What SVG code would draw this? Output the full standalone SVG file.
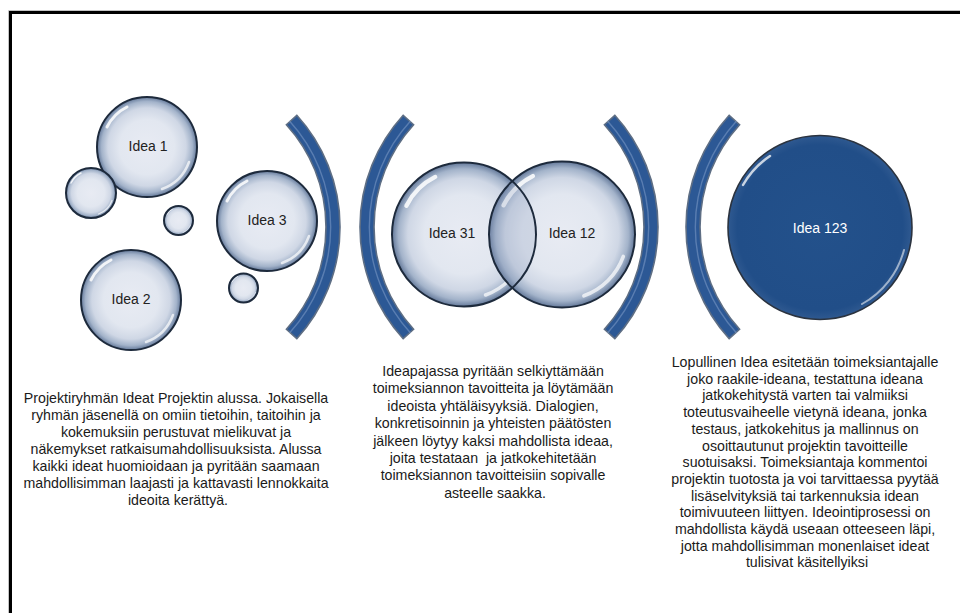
<svg xmlns="http://www.w3.org/2000/svg" xmlns:xlink="http://www.w3.org/1999/xlink" width="960" height="613" viewBox="0 0 960 613">
  <style>
    .label { font-family: "Liberation Sans", Arial, sans-serif; font-size: 14px; fill: #222; text-anchor: middle; dominant-baseline: central; }
    .label-dark { fill: #ffffff; }
    .body { font-family: "Liberation Sans", Arial, sans-serif; font-size: 14.2px; fill: #1a1a1a; text-anchor: middle; }
    .bracket { fill: #2c5895; stroke: #5e6e84; stroke-width: 1.6; stroke-linejoin: miter; }
    .bracket-shine { fill: none; stroke: #7f9cc8; stroke-width: 1.4; opacity: 0.55; }
    .rim { fill: none; stroke: #1d2a3c; stroke-width: 2; }
  </style>
  <defs>
    <radialGradient id="bubbleFill" cx="0.5" cy="0.5" r="0.5">
      <stop offset="0" stop-color="#e8ebf3"/>
      <stop offset="0.55" stop-color="#e2e7f0"/>
      <stop offset="0.78" stop-color="#cfd7e5"/>
      <stop offset="0.91" stop-color="#a3b3ca"/>
      <stop offset="1" stop-color="#64799a"/>
    </radialGradient>
    <radialGradient id="darkFill" cx="0.5" cy="0.5" r="0.5">
      <stop offset="0" stop-color="#23518b"/>
      <stop offset="0.9" stop-color="#214e88"/>
      <stop offset="1" stop-color="#2f5990"/>
    </radialGradient>
    <!-- unit bubble drawn at radius 100, scaled per node -->
    <g id="bubbleBody">
      <circle r="100" fill="url(#bubbleFill)"/>
      <path d="M -80,-40 A 89.4 89.4 0 0 1 -40,-80" fill="none" stroke="#ffffff" stroke-width="6" stroke-linecap="round" opacity="0.85"/>
      <path d="M 84,30 A 89.4 89.4 0 0 1 30,84" fill="none" stroke="#ffffff" stroke-width="5" stroke-linecap="round" opacity="0.7"/>
    </g>
    <circle id="bubbleRim" r="100" class="rim" vector-effect="non-scaling-stroke"/>
    <g id="bubble">
      <use xlink:href="#bubbleBody"/>
      <use xlink:href="#bubbleRim"/>
    </g>
    <clipPath id="clipRight">
      <circle cx="562" cy="234.5" r="73"/>
    </clipPath>
  </defs>

  <rect width="960" height="613" fill="#ffffff"/>

  <!-- page frame -->
  <path d="M 8.5,613 V 10.5 H 960" fill="none" stroke="#c4c4c4" stroke-width="1"/>
  <path d="M 10.5,613 V 12.5 H 960" fill="none" stroke="#000000" stroke-width="3"/>

  <!-- stage 1: scattered ideas -->
  <g id="idea-1">
    <use xlink:href="#bubble" transform="translate(147 147) scale(0.5)"/>
    <text class="label" x="148" y="146">Idea 1</text>
  </g>
  <g id="bubble-small-a">
    <use xlink:href="#bubble" transform="translate(91 193) scale(0.25)"/>
  </g>
  <g id="bubble-tiny-a">
    <use xlink:href="#bubble" transform="translate(178.5 220.5) scale(0.145)"/>
  </g>
  <g id="idea-2">
    <use xlink:href="#bubble" transform="translate(131 300) scale(0.5)"/>
    <text class="label" x="131" y="299">Idea 2</text>
  </g>
  <g id="idea-3">
    <use xlink:href="#bubble" transform="translate(267 221) scale(0.5)"/>
    <text class="label" x="267" y="220">Idea 3</text>
  </g>
  <g id="bubble-tiny-b">
    <use xlink:href="#bubble" transform="translate(243.5 288) scale(0.145)"/>
  </g>

  <!-- curved brackets separating the stages -->
  <g id="brackets">
    <path class="bracket" d="M 296.8,115.3 A 166 166 0 0 1 296.8,338.7 L 286.4,329.3 A 152 152 0 0 0 286.4,124.7 Z"/>
    <path class="bracket-shine" d="M 289.5,121 A 157 157 0 0 1 289.5,333"/>
    <path class="bracket" d="M 403.2,115.3 A 166 166 0 0 0 403.2,338.7 L 413.6,329.3 A 152 152 0 0 1 413.6,124.7 Z"/>
    <path class="bracket-shine" d="M 410.5,121 A 157 157 0 0 0 410.5,333"/>
    <path class="bracket" d="M 614.8,115.3 A 166 166 0 0 1 614.8,338.7 L 604.4,329.3 A 152 152 0 0 0 604.4,124.7 Z"/>
    <path class="bracket-shine" d="M 607.5,121 A 157 157 0 0 1 607.5,333"/>
    <path class="bracket" d="M 729.2,115.3 A 166 166 0 0 0 729.2,338.7 L 739.6,329.3 A 152 152 0 0 1 739.6,124.7 Z"/>
    <path class="bracket-shine" d="M 736.5,121 A 157 157 0 0 0 736.5,333"/>
  </g>

  <!-- stage 2: two overlapping ideas -->
  <g id="idea-31">
    <use xlink:href="#bubbleBody" transform="translate(464 234.5) scale(0.72)"/>
  </g>
  <g id="idea-12">
    <use xlink:href="#bubbleBody" transform="translate(562 234.5) scale(0.73)"/>
  </g>
  <g id="overlap" clip-path="url(#clipRight)">
    <circle cx="464" cy="234.5" r="72" fill="#8a9dbb" opacity="0.25"/>
    <path d="M 497,180 A 72 72 0 0 0 497,289" fill="none" stroke="#ffffff" stroke-width="2.5" opacity="0.6" transform="translate(-8 0)"/>
  </g>
  <g id="idea-31-rim">
    <use xlink:href="#bubbleRim" transform="translate(464 234.5) scale(0.72)"/>
    <text class="label" x="452" y="233">Idea 31</text>
  </g>
  <g id="idea-12-rim">
    <use xlink:href="#bubbleRim" transform="translate(562 234.5) scale(0.73)"/>
    <text class="label" x="572" y="233">Idea 12</text>
  </g>

  <!-- stage 3: final idea -->
  <g id="idea-123">
    <circle cx="820" cy="227.5" r="92" fill="url(#darkFill)" stroke="#2b333f" stroke-width="1.6"/>
    <path d="M 743,185 A 86 86 0 0 1 770,156" fill="none" stroke="#ffffff" stroke-width="2.5" stroke-linecap="round" opacity="0.75"/>
    <path d="M 904,250 A 87 87 0 0 1 862,304" fill="none" stroke="#ffffff" stroke-width="2" stroke-linecap="round" opacity="0.55"/>
    <text class="label label-dark" x="820" y="228">Idea 123</text>
  </g>

  <!-- descriptions -->
  <g id="text-stage-1">
    <text class="body" x="178">
      <tspan x="178" y="403">Projektiryhmän Ideat Projektin alussa. Jokaisella</tspan>
      <tspan x="178" y="420">ryhmän jäsenellä on omiin tietoihin, taitoihin ja</tspan>
      <tspan x="178" y="437">kokemuksiin perustuvat mielikuvat ja</tspan>
      <tspan x="178" y="454">näkemykset ratkaisumahdollisuuksista. Alussa</tspan>
      <tspan x="178" y="471">kaikki ideat huomioidaan ja pyritään saamaan</tspan>
      <tspan x="178" y="488">mahdollisimman laajasti ja kattavasti lennokkaita</tspan>
      <tspan x="178" y="505">ideoita kerättyä.</tspan>
    </text>
  </g>
  <g id="text-stage-2">
    <text class="body" x="495">
      <tspan x="495" y="376">Ideapajassa pyritään selkiyttämään</tspan>
      <tspan x="495" y="393.4">toimeksiannon tavoitteita ja löytämään</tspan>
      <tspan x="495" y="410.8">ideoista yhtäläisyyksiä. Dialogien,</tspan>
      <tspan x="495" y="428.2">konkretisoinnin ja yhteisten päätösten</tspan>
      <tspan x="495" y="445.6">jälkeen löytyy kaksi mahdollista ideaa,</tspan>
      <tspan x="495" y="463" xml:space="preserve">joita testataan  ja jatkokehitetään</tspan>
      <tspan x="495" y="480.4">toimeksiannon tavoitteisiin sopivalle</tspan>
      <tspan x="495" y="497.8">asteelle saakka.</tspan>
    </text>
  </g>
  <g id="text-stage-3">
    <text class="body" x="807">
      <tspan x="807" y="367">Lopullinen Idea esitetään toimeksiantajalle</tspan>
      <tspan x="807" y="383.7">joko raakile-ideana, testattuna ideana</tspan>
      <tspan x="807" y="400.4">jatkokehitystä varten tai valmiiksi</tspan>
      <tspan x="807" y="417.1">toteutusvaiheelle vietynä ideana, jonka</tspan>
      <tspan x="807" y="433.8">testaus, jatkokehitus ja mallinnus on</tspan>
      <tspan x="807" y="450.5">osoittautunut projektin tavoitteille</tspan>
      <tspan x="807" y="467.2">suotuisaksi. Toimeksiantaja kommentoi</tspan>
      <tspan x="807" y="483.9">projektin tuotosta ja voi tarvittaessa pyytää</tspan>
      <tspan x="807" y="500.6">lisäselvityksiä tai tarkennuksia idean</tspan>
      <tspan x="807" y="517.3">toimivuuteen liittyen. Ideointiprosessi on</tspan>
      <tspan x="807" y="534">mahdollista käydä useaan otteeseen läpi,</tspan>
      <tspan x="807" y="550.7">jotta mahdollisimman monenlaiset ideat</tspan>
      <tspan x="807" y="567.4">tulisivat käsitellyiksi</tspan>
    </text>
  </g>
</svg>
